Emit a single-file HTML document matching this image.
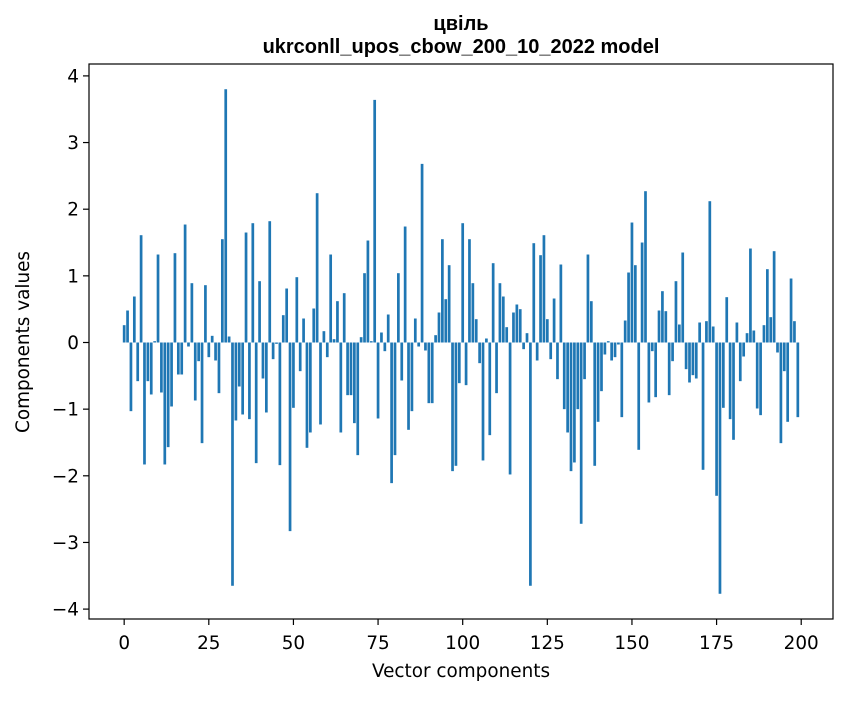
<!DOCTYPE html>
<html><head><meta charset="utf-8"><style>
body{margin:0;background:#fff;}
svg text{font-family:"DejaVu Sans","Liberation Sans",sans-serif;fill:#000;}
svg text.title{font-family:"Liberation Sans","DejaVu Sans",sans-serif;}
</style></head><body>
<svg id="chart" width="847" height="696" viewBox="0 0 847 696" xmlns="http://www.w3.org/2000/svg">
<rect width="847" height="696" fill="#fff"/>
<text class="title" x="461" y="30" text-anchor="middle" font-size="20" font-weight="bold">цвіль</text>
<text class="title" x="461" y="53" text-anchor="middle" font-size="20" font-weight="bold">ukrconll_upos_cbow_200_10_2022 model</text>
<g id="bars"></g>
<g id="xticks"></g>
<g id="yticks"></g>
<rect x="89" y="64" width="744" height="555" fill="none" stroke="#000" stroke-width="1.2"/>
<text x="461" y="677" text-anchor="middle" font-size="18.4">Vector components</text>
<text transform="translate(29,342) rotate(-90)" text-anchor="middle" font-size="18.4">Components values</text>
</svg>
<script>
const values = [
0.26,0.48,-1.03,0.69,-0.58,1.61,-1.83,-0.58,-0.78,0.02,
1.32,-0.75,-1.83,-1.57,-0.96,1.34,-0.48,-0.48,1.77,-0.06,
0.89,-0.87,-0.28,-1.51,0.86,-0.22,0.10,-0.27,-0.76,1.55,
3.80,0.09,-3.65,-1.17,-0.66,-1.08,1.65,-1.15,1.79,-1.81,
0.92,-0.54,-1.05,1.82,-0.25,-0.02,-1.84,0.41,0.81,-2.83,
-0.98,0.98,-0.43,0.36,-1.58,-1.35,0.51,2.24,-1.23,0.17,
-0.22,1.32,0.05,0.62,-1.35,0.74,-0.79,-0.79,-1.21,-1.69,
0.08,1.04,1.53,0.02,3.64,-1.14,0.15,-0.13,0.42,-2.11,
-1.69,1.04,-0.57,1.74,-1.31,-1.03,0.36,-0.06,2.68,-0.12,
-0.91,-0.91,0.11,0.45,1.55,0.65,1.16,-1.93,-1.85,-0.61,
1.79,-0.64,1.55,0.89,0.35,-0.31,-1.77,0.06,-1.39,1.19,
-0.76,0.89,0.69,0.23,-1.98,0.45,0.57,0.50,-0.10,0.14,
-3.65,1.49,-0.27,1.31,1.61,0.35,-0.25,0.66,-0.55,1.17,
-1.00,-1.35,-1.93,-1.80,-1.00,-2.72,-0.55,1.32,0.62,-1.85,
-1.19,-0.73,-0.18,0.02,-0.27,-0.22,-0.03,-1.12,0.33,1.05,
1.80,1.16,-1.61,1.50,2.27,-0.90,-0.13,-0.82,0.48,0.77,
0.47,-0.79,-0.28,0.92,0.27,1.35,-0.40,-0.60,-0.49,-0.54,
0.30,-1.91,0.32,2.12,0.24,-2.30,-3.77,-0.98,0.68,-1.15,
-1.46,0.30,-0.58,-0.21,0.14,1.41,0.18,-0.99,-1.09,0.26,
1.10,0.38,1.37,-0.15,-1.51,-0.43,-1.19,0.96,0.32,-1.12];
const xTicks = [0,25,50,75,100,125,150,175,200];
const yTicks = [-4,-3,-2,-1,0,1,2,3,4];

const NS = "http://www.w3.org/2000/svg";
const X0 = 89, X1 = 833, Y0 = 64, Y1 = 619;
const xMin = -0.4 - 0.05*(values.length-1+0.8), xMax = values.length-1+0.4 + 0.05*(values.length-1+0.8);
const vMax = Math.max(...values), vMin = Math.min(...values), pad = 0.05*(vMax-vMin);
const yMax = vMax + pad, yMin = vMin - pad;
function xs(v){ return X0 + (v - xMin)/(xMax - xMin)*(X1 - X0); }
function ys(v){ return Y1 - (v - yMin)/(yMax - yMin)*(Y1 - Y0); }
function mk(tag, attrs, parent){ const e=document.createElementNS(NS,tag); for(const k in attrs) e.setAttribute(k, attrs[k]); parent.appendChild(e); return e; }

const bars = document.getElementById('bars');
values.forEach((v,i)=>{
  const x = xs(i-0.4), w = xs(i+0.4)-xs(i-0.4);
  const yTop = ys(Math.max(v,0)), yBot = ys(Math.min(v,0));
  const r = mk('rect',{x:x,y:yTop,width:w,height:Math.max(yBot-yTop,0.3),fill:'#1f77b4'},bars);
  
  
});
const gx = document.getElementById('xticks');
xTicks.forEach(t=>{
  const x = xs(t);
  const l = mk('line',{x1:x,x2:x,y1:Y1,y2:Y1+6,stroke:'#000','stroke-width':1.2},gx);
  
  
  const tx = mk('text',{x:x,y:Y1+30,'text-anchor':'middle','font-size':'18.4'},gx);
  tx.textContent = String(t);
  
  
});
const gy = document.getElementById('yticks');
yTicks.forEach(t=>{
  const y = ys(t);
  const l = mk('line',{x1:X0-6,x2:X0,y1:y,y2:y,stroke:'#000','stroke-width':1.2},gy);
  
  
  const tx = mk('text',{x:X0-10,y:y+6.5,'text-anchor':'end','font-size':'18.4'},gy);
  tx.textContent = t<0 ? '\u2212'+Math.abs(t) : String(t);
  
  
});
</script>
</body></html>
